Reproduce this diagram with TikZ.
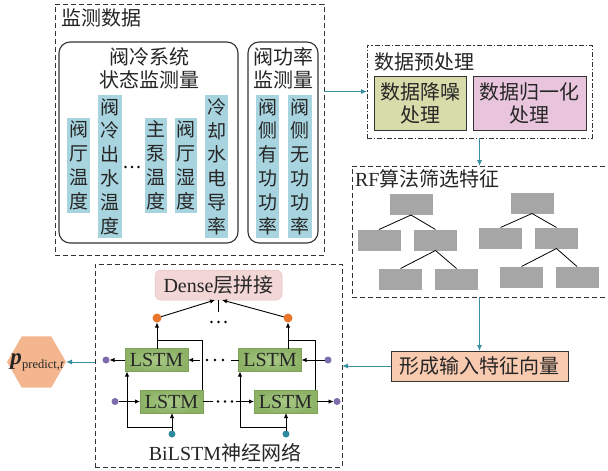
\documentclass[tikz,border=0pt]{standalone}
\usepackage{fontspec}
\setmainfont{Liberation Serif}
\newfontfamily\cjk{Noto Sans CJK SC}
\usetikzlibrary{arrows.meta,calc,shapes.geometric}
\definecolor{colblue}{HTML}{A8D4DF}
\definecolor{framec}{HTML}{333333}
\definecolor{txt}{HTML}{262626}
\definecolor{greenbox}{HTML}{D7DCAA}
\definecolor{pinkbox}{HTML}{E8C5DC}
\definecolor{treegray}{HTML}{A6A6A6}
\definecolor{vecfill}{HTML}{F8CAB0}
\definecolor{hexfill}{HTML}{F4B68E}
\definecolor{densefill}{HTML}{F3D6D6}
\definecolor{denseedge}{HTML}{E6C2C2}
\definecolor{lstmgreen}{HTML}{8DB266}
\definecolor{lstmlight}{HTML}{A8C987}
\definecolor{lstmedge}{HTML}{7FA35A}
\definecolor{orangedot}{HTML}{E8762C}
\definecolor{purpledot}{HTML}{7E6BAE}
\definecolor{tealdot}{HTML}{2E8A9E}
\definecolor{teal2}{HTML}{3A8FA3}
\tikzset{
 nb/.style={inner sep=0pt, outer sep=0pt},
 dbox/.style={nb, draw=framec, line width=0.9pt, dash pattern=on 5pt off 3pt},
 ddbox/.style={nb, draw=framec, line width=0.9pt, dash pattern=on 5pt off 2pt on 1.2pt off 2pt},
 rbox/.style={nb, draw=framec, line width=1.1pt, rounded corners=11pt},
 colbox/.style={nb, fill=colblue, align=center, font=\cjk\fontsize{19}{23.8}\selectfont, text=txt},
 cjkt/.style={nb, font=\cjk\fontsize{20}{23}\selectfont, text=txt, align=center},
 latt/.style={nb, font=\fontsize{20}{20}\selectfont, text=txt},
 gbox/.style={nb, fill=treegray, minimum width=43pt, minimum height=21pt},
 treeline/.style={draw=black, line width=0.8pt},
 lstmbox/.style={nb, inner color=lstmlight, outer color=lstmgreen, draw=lstmedge, line width=0.4pt, minimum width=63pt, minimum height=23pt, font=\fontsize{20}{20}\selectfont, text=txt},
 blob/.style={circle, nb, minimum size=7pt, fill=#1},
 tarr/.style={draw=teal2, line width=1pt, -{Latex[length=6pt,width=5pt]}},
 barr/.style={draw=black, line width=0.9pt, -{Latex[length=5pt,width=4.5pt]}},
 bline/.style={draw=black, line width=0.9pt},
 sdot/.style={fill=black, circle, nb, minimum size=2.6pt},
}
\begin{document}
\begin{tikzpicture}[x=1pt,y=-1pt]
\useasboundingbox (0,0) rectangle (608,471);
\fill[white] (0,0) rectangle (608,471);

% ---------- monitoring data ----------
\node[dbox, minimum width=269pt, minimum height=251pt] (mon) at (189.5,129.5) {};
\node[cjkt, anchor=west] (mont) at (61,18) {监测数据};
\node[rbox, minimum width=179pt, minimum height=201pt] (g1) at (148.5,142.5) {};
\node[rbox, minimum width=70pt, minimum height=201pt] (g2) at (283,142.5) {};
\node[cjkt] (g1t) at (149,68.5) {阀冷系统\\状态监测量};
\node[cjkt] (g2t) at (283,68.5) {阀功率\\监测量};
\node[colbox, minimum width=23pt, minimum height=95pt] (c1) at (78.5,165.5) {阀\\厅\\温\\度};
\node[colbox, minimum width=24pt, minimum height=143pt] (c2) at (110,166.5) {阀\\冷\\出\\水\\温\\度};
\node[colbox, minimum width=22pt, minimum height=95pt] (c3) at (156,165.5) {主\\泵\\温\\度};
\node[colbox, minimum width=22pt, minimum height=95pt] (c4) at (186,165.5) {阀\\厅\\湿\\度};
\node[colbox, minimum width=23pt, minimum height=143pt] (c5) at (216.5,166.5) {冷\\却\\水\\电\\导\\率};
\node[colbox, minimum width=23pt, minimum height=143pt] (c6) at (267.5,166.5) {阀\\侧\\有\\功\\功\\率};
\node[colbox, minimum width=24pt, minimum height=143pt] (c7) at (300,166.5) {阀\\侧\\无\\功\\功\\率};
\node[sdot] (cd1) at (125.5,167) {};
\node[sdot] (cd2) at (132,167) {};
\node[sdot] (cd3) at (138.5,167) {};

% ---------- preprocessing ----------
\node[ddbox, minimum width=225pt, minimum height=93pt] (pre) at (479.5,91.5) {};
\node[cjkt, anchor=west] (pret) at (374,62) {数据预处理};
\node[cjkt, draw=framec, line width=1pt, fill=greenbox, minimum width=92pt, minimum height=54pt] (p1) at (420,103) {数据降噪\\处理};
\node[cjkt, draw=framec, line width=1pt, fill=pinkbox, minimum width=113pt, minimum height=54pt] (p2) at (529.5,103) {数据归一化\\处理};
\draw[tarr] (pre.west -| mon.east) -- (pre.west);

% ---------- RF ----------
\node[dbox, minimum width=257pt, minimum height=131pt] (rf) at (480.5,231.5) {};
\node[latt, anchor=west] (rft) at (355,179) {RF{\cjk 算法筛选特征}};
\draw[tarr] (pre.south) -- (pre.south |- rf.north);
\node[gbox] (r1) at (411,204.5) {};
\node[gbox] (a1) at (379,240) {};
\node[gbox] (b1) at (435.5,240) {};
\node[gbox] (e1) at (400.5,279) {};
\node[gbox] (f1) at (456.5,279) {};
\node[gbox] (r2) at (532,203) {};
\node[gbox] (a2) at (500.5,238) {};
\node[gbox] (b2) at (556.5,238) {};
\node[gbox] (e2) at (521.5,277) {};
\node[gbox] (f2) at (577,277) {};
\draw[treeline] (r1.south) -- (a1.north);
\draw[treeline] (r1.south) -- (b1.north);
\draw[treeline] (b1.south) -- (e1.north);
\draw[treeline] (b1.south) -- (f1.north);
\draw[treeline] (r2.south) -- (a2.north);
\draw[treeline] (r2.south) -- (b2.north);
\draw[treeline] (b2.south) -- (e2.north);
\draw[treeline] (b2.south) -- (f2.north);

% ---------- feature vector ----------
\node[cjkt, draw=framec, line width=1pt, fill=vecfill, minimum width=177pt, minimum height=30pt] (vec) at (479.5,366) {形成输入特征向量};
\draw[tarr] (rf.south -| vec.north) -- (vec.north);

% ---------- BiLSTM ----------
\node[dbox, minimum width=247pt, minimum height=203pt] (bil) at (218.5,365.5) {};
\draw[tarr] (vec.west) -- (vec.west -| bil.east);
\node[latt] (bilt) at (225,453) {BiLSTM{\cjk 神经网络}};

\node[regular polygon, regular polygon sides=6, minimum size=59pt, nb, fill=hexfill] (hex) at (36.5,362) {};
\node[nb, text=txt] (hext) at (37,362) {\fontsize{23}{23}\selectfont\bfseries\itshape p\kern0.3pt\raisebox{-4pt}{\fontsize{12.5}{12.5}\selectfont\mdseries\upshape predict,\itshape t}};
\draw[tarr] (hex.east -| bil.west) -- (hex.east);

\node[nb, fill=densefill, draw=denseedge, line width=0.5pt, rounded corners=6pt, minimum width=127pt, minimum height=30pt, font=\fontsize{20}{20}\selectfont, text=txt] (dense) at (218.5,285) {Dense{\cjk 层拼接}};
\node[blob=orangedot, minimum size=9pt] (o1) at (157,318) {};
\node[blob=orangedot, minimum size=9pt] (o2) at (288,318) {};
\draw[barr] (o1) -- ($(dense.south)+(-3.5,0)$);
\draw[barr] (o2) -- ($(dense.south)+(3.5,0)$);
\draw[bline, line width=0.8pt] (dense.south) -- ++(0,12);
\node[sdot] (dd1) at (211.5,322) {};
\node[sdot] (dd2) at (218.5,322) {};
\node[sdot] (dd3) at (225.5,322) {};

\node[lstmbox] (A) at (156.5,360) {LSTM};
\node[lstmbox] (B) at (270,360) {LSTM};
\node[lstmbox] (C) at (171.5,401.5) {LSTM};
\node[lstmbox] (D) at (285.5,401.5) {LSTM};

\node[blob=purpledot] (pl1) at (106,360) {};
\node[blob=purpledot] (pr1) at (328,360) {};
\node[blob=purpledot] (pl2) at (115,401.5) {};
\node[blob=purpledot] (pr2) at (337,401.5) {};
\node[blob=tealdot] (t1) at (172,434) {};
\node[blob=tealdot] (t2) at (286,434) {};

% backward row
\draw[barr] (pr1) -- (B.east);
\draw[bline] (B.west) -- ++(-8,0);
\node[sdot] (ad1) at (207,360) {};
\node[sdot] (ad2) at (215,360) {};
\node[sdot] (ad3) at (223,360) {};
\draw[barr] ($(A.east)+(12,0)$) -- (A.east);
\draw[barr] (A.west) -- (pl1);
% forward row
\draw[barr] (pl2) -- (C.west);
\draw[bline] (C.east) -- ++(10,0);
\node[sdot] (bd1) at (218,401.5) {};
\node[sdot] (bd2) at (225,401.5) {};
\node[sdot] (bd3) at (232,401.5) {};
\draw[barr] ($(D.west)+(-18,0)$) -- (D.west);
\draw[barr] (D.east) -- (pr2);
% inputs
\coordinate (br1) at (127,427);
\coordinate (br2) at (240,427);
\draw[barr] (t1) -- (t1 |- C.south);
\draw[barr] (br1 -| t1) -- (br1) -- (br1 |- A.south);
\draw[barr] (t2) -- (t2 |- D.south);
\draw[barr] (br2 -| t2) -- (br2) -- (br2 |- B.south);
% outputs
\coordinate (cu) at (202,340);
\coordinate (du) at (315.5,340);
\draw[barr] (A.north -| o1) -- (o1);
\draw[bline] (C.north -| cu) -- (cu) -- (cu -| o1);
\draw[barr] (B.north -| o2) -- (o2);
\draw[bline] (D.north -| du) -- (du) -- (du -| o2);
\end{tikzpicture}
\end{document}
